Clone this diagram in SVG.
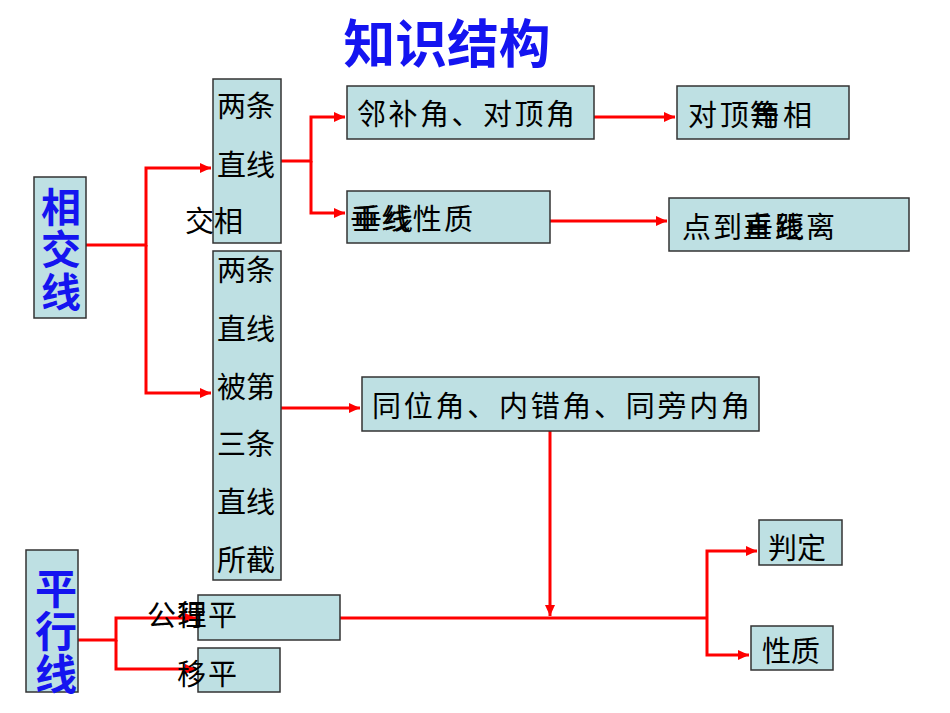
<svg xmlns="http://www.w3.org/2000/svg" width="950" height="713" viewBox="0 0 950 713">
<style>
.box{fill:#BEE0E3;stroke:#333;stroke-width:1.5}
.t{font-family:"Noto Sans CJK SC","Liberation Sans",sans-serif;font-size:29px;fill:#000;dominant-baseline:central}
.b{font-family:"Noto Sans CJK SC","Liberation Sans",sans-serif;font-size:40px;font-weight:bold;fill:#1414F0;dominant-baseline:central;text-anchor:middle}
.c{fill:none;stroke:#FF0000;stroke-width:3}
</style>
<defs>
<marker id="ah" markerUnits="userSpaceOnUse" markerWidth="12" markerHeight="10" refX="11" refY="5" orient="auto">
<path d="M0,0 L11,5 L0,10 Z" fill="#FF0000"/>
</marker>
</defs>
<rect width="950" height="713" fill="#fff"/>
<g id="title"><text x="447" y="40" style="font-family:'Noto Sans CJK SC',sans-serif;font-size:52px;font-weight:bold;fill:#1414F0;dominant-baseline:central" text-anchor="middle" textLength="207" lengthAdjust="spacingAndGlyphs">知识结构</text></g>

<g id="connectors">
<path class="c" d="M86,245 H146 V168 H211" marker-end="url(#ah)"/>
<path class="c" d="M146,245 V393 H211" marker-end="url(#ah)"/>
<path class="c" d="M281,161 H311 V117 H345" marker-end="url(#ah)"/>
<path class="c" d="M311,161 V213 H345" marker-end="url(#ah)"/>
<path class="c" d="M594,117 H675" marker-end="url(#ah)"/>
<path class="c" d="M550,221 H667" marker-end="url(#ah)"/>
<path class="c" d="M281,408 H360" marker-end="url(#ah)"/>
<path class="c" d="M550,431 V616" marker-end="url(#ah)"/>
<path class="c" d="M340,618 H707"/>
<path class="c" d="M707,618 V551 H757" marker-end="url(#ah)"/>
<path class="c" d="M707,618 V655 H749" marker-end="url(#ah)"/>
<path class="c" d="M78,640 H116 V618 H196" marker-end="url(#ah)"/>
<path class="c" d="M116,640 V669 H196" marker-end="url(#ah)"/>
</g>

<g id="xiangjiaoxian">
<rect class="box" x="34" y="177" width="52" height="141"/>
<text class="b" x="61" y="205">相</text>
<text class="b" x="61" y="247">交</text>
<text class="b" x="61" y="290">线</text>
</g>

<g id="pingxingxian">
<rect class="box" x="26" y="550" width="52" height="142"/>
<text class="b" x="56" y="585" style="font-size:42px">平</text>
<text class="b" x="56" y="628" style="font-size:42px">行</text>
<text class="b" x="56" y="671" style="font-size:42px">线</text>
</g>

<g id="liangtiao-xiangjiao">
<rect class="box" x="213" y="79" width="68" height="164"/>
<text class="t" x="217" y="104">两条</text>
<text class="t" x="217" y="163">直线</text>
<text class="t" x="185" y="219">交相</text>
</g>

<g id="liangtiao-jie">
<rect class="box" x="213" y="251" width="68" height="329"/>
<text class="t" x="217" y="268">两条</text>
<text class="t" x="217" y="327">直线</text>
<text class="t" x="217" y="385">被第</text>
<text class="t" x="217" y="442">三条</text>
<text class="t" x="217" y="500">直线</text>
<text class="t" x="217" y="558">所截</text>
</g>

<g id="linbujiao">
<rect class="box" x="347" y="86" width="247" height="53"/>
<text class="t" x="357" y="112" textLength="218" lengthAdjust="spacing">邻补角、对顶角</text>
</g>

<g id="chuixian">
<rect class="box" x="347" y="191" width="203" height="52"/>
<text class="t" x="350" y="217" textLength="123" lengthAdjust="spacing">垂线性质</text>
<text class="t" x="353" y="217" textLength="60" lengthAdjust="spacing">垂线</text>
</g>

<g id="duidingjiao">
<rect class="box" x="677" y="86" width="172" height="53"/>
<text class="t" x="688" y="113" textLength="124" lengthAdjust="spacing">对顶角相</text>
<text class="t" x="750" y="113">等</text>
</g>

<g id="juli">
<rect class="box" x="669" y="198" width="240" height="53"/>
<text class="t" x="682" y="225" textLength="153" lengthAdjust="spacing">点到垂距离</text>
<text class="t" x="743" y="225" textLength="61" lengthAdjust="spacing">直线</text>
</g>

<g id="tongweijiao">
<rect class="box" x="362" y="377" width="397" height="54"/>
<text class="t" x="372" y="404" textLength="378" lengthAdjust="spacing">同位角、内错角、同旁内角</text>
</g>

<g id="gongli">
<rect class="box" x="198" y="595" width="142" height="45"/>
<text class="t" x="147" y="613" textLength="90" lengthAdjust="spacing">公理平</text>
<text class="t" x="177" y="613">行</text>
</g>

<g id="pingyi">
<rect class="box" x="198" y="648" width="82" height="44"/>
<text class="t" x="177" y="672" textLength="60" lengthAdjust="spacing">移平</text>
</g>

<g id="panding">
<rect class="box" x="759" y="520" width="83" height="45"/>
<text class="t" x="768" y="546">判定</text>
</g>

<g id="xingzhi">
<rect class="box" x="751" y="626" width="82" height="44"/>
<text class="t" x="762" y="649">性质</text>
</g>
</svg>
